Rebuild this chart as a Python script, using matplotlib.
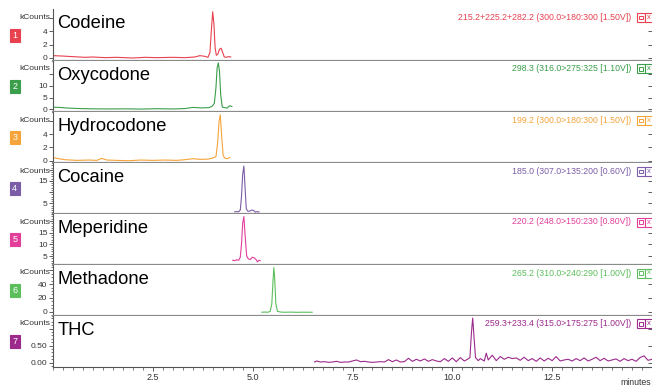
import matplotlib
matplotlib.use('Agg')
import matplotlib.pyplot as plt
from matplotlib.patches import Rectangle
from matplotlib.ticker import MultipleLocator, FixedLocator, NullLocator

plt.rcParams['font.family'] = ['Liberation Sans', 'DejaVu Sans']

W, H = 652, 388

# compounds / channels
names = ['Codeine', 'Oxycodone', 'Hydrocodone', 'Cocaine', 'Meperidine', 'Methadone', 'THC']
channels = ['1', '2', '3', '4', '5', '6', '7']
ions = ['215.2+225.2+282.2 (300.0>180:300 [1.50V])',
        '298.3 (316.0>275:325 [1.10V])',
        '199.2 (300.0>180:300 [1.50V])',
        '185.0 (307.0>135:200 [0.60V])',
        '220.2 (248.0>150:230 [0.80V])',
        '265.2 (310.0>240:290 [1.00V])',
        '259.3+233.4 (315.0>175:275 [1.00V])']
colors = ['#e8414f', '#3a9e4a', '#f4a43a', '#7b5ea7', '#e23f9b', '#5cbf5c', '#9c2a8c']

# traces (minutes, kCounts)
codeine_t = [0, 0.2, 0.5, 0.8, 1.0, 1.3, 1.6, 2.0, 2.3, 2.6, 3.0, 3.3, 3.55, 3.68, 3.8, 3.88,
             3.93, 3.97, 4.0, 4.03, 4.06, 4.09, 4.13, 4.17, 4.21, 4.25, 4.29, 4.33, 4.4, 4.45]
codeine_i = [0.35, 0.3, 0.2, 0.1, 0.15, 0.05, 0.1, 0.0, 0.1, 0.05, 0.1, 0.05, 0.15, 0.35, 0.25, 0.1,
             0.8, 4.5, 6.85, 5.0, 1.5, 0.4, 0.6, 1.3, 1.45, 0.8, 0.15, 0.1, 0.2, 0.15]

oxy_t = [0, 0.15, 0.4, 0.7, 1.0, 1.4, 1.8, 2.2, 2.6, 3.0, 3.3, 3.5, 3.7, 3.9, 3.98, 4.04,
         4.08, 4.11, 4.14, 4.17, 4.2, 4.24, 4.3, 4.36, 4.42, 4.48]
oxy_i = [0.9, 0.8, 0.5, 0.3, 0.2, 0.15, 0.2, 0.1, 0.25, 0.15, 0.3, 0.8, 0.6, 0.7, 1.2, 2.5,
         9.0, 17.5, 19.7, 16.0, 6.0, 0.9, 0.7, 0.5, 1.5, 1.2]

hydro_t = [0, 0.1, 0.3, 0.6, 0.9, 1.1, 1.22, 1.35, 1.6, 1.9, 2.2, 2.5, 2.8, 3.1, 3.3, 3.5,
           3.7, 3.9, 4.0, 4.08, 4.12, 4.16, 4.19, 4.22, 4.26, 4.3, 4.36, 4.43]
hydro_i = [0.5, 0.35, 0.15, 0.05, 0.1, 0.05, 0.35, 0.1, 0.05, 0.0, 0.1, 0.05, 0.1, 0.05, 0.15, 0.3,
           0.2, 0.25, 0.4, 0.6, 2.5, 6.0, 6.9, 4.0, 0.8, 0.4, 0.3, 0.5]

cocaine_t = [4.55, 4.6, 4.65, 4.69, 4.72, 4.75, 4.78, 4.81, 4.84, 4.88, 4.93, 4.98, 5.02, 5.07, 5.12, 5.16]
cocaine_i = [1.2, 1.3, 1.2, 2.0, 8.0, 18.0, 21.7, 12.0, 2.5, 1.4, 1.5, 2.0, 1.8, 1.0, 1.3, 1.1]

mep_t = [4.5, 4.55, 4.6, 4.65, 4.69, 4.72, 4.75, 4.78, 4.81, 4.85, 4.89, 4.94, 4.99, 5.04,
         5.08, 5.12, 5.16, 5.19]
mep_i = [3.2, 3.0, 3.4, 3.2, 4.5, 10.0, 19.0, 21.9, 14.0, 5.0, 3.8, 3.5, 4.5, 4.2,
         3.6, 2.5, 3.2, 3.0]

meth_t = [5.23, 5.3, 5.38, 5.44, 5.48, 5.51, 5.53, 5.55, 5.58, 5.62, 5.7, 5.8, 5.95, 6.1, 6.25, 6.4, 6.49]
meth_i = [-0.8, -0.5, -0.8, 0.5, 12.0, 45.0, 64.0, 50.0, 12.0, 0.5, -0.5, -0.8, -0.6, -0.9, -0.7, -0.8, -0.8]

thc_t = [6.55, 6.6, 6.7, 6.8, 6.9, 7.0, 7.1, 7.2, 7.3, 7.4, 7.5, 7.6, 7.7, 7.8, 7.9, 8.0,
         8.1, 8.2, 8.3, 8.4, 8.5, 8.6, 8.7, 8.8, 8.9, 9.0, 9.1, 9.2, 9.3, 9.4, 9.5, 9.6,
         9.7, 9.8, 9.9, 10.0, 10.1, 10.2, 10.3, 10.38, 10.44, 10.48, 10.51, 10.54, 10.58, 10.65,
         10.7, 10.8, 10.85, 10.9, 11.0, 11.1, 11.2, 11.3, 11.4, 11.5, 11.6, 11.7, 11.8, 11.9,
         12.0, 12.1, 12.2, 12.3, 12.4, 12.5, 12.6, 12.7, 12.8, 12.9, 13.0, 13.1, 13.2, 13.3,
         13.4, 13.5, 13.6, 13.7, 13.8, 13.9, 14.0, 14.1, 14.2, 14.3, 14.4, 14.5, 14.6, 14.7,
         14.8, 14.9, 15.0]
thc_i = [0.02, 0.05, 0.02, 0.03, 0.01, 0.02, 0.04, 0.01, 0.02, 0.02, 0.05, 0.08, 0.03, 0.04, 0.02, 0.01,
         0.02, 0.03, 0.02, 0.09, 0.03, 0.08, 0.02, 0.03, 0.13, 0.04, 0.10, 0.05, 0.11, 0.04, 0.09, 0.05,
         0.03, 0.12, 0.04, 0.14, 0.03, 0.15, 0.05, 0.10, 0.15, 0.9, 1.31, 0.8, 0.15, 0.06,
         0.12, 0.05, 0.28, 0.08, 0.22, 0.06, 0.18, 0.10, 0.16, 0.12, 0.14, 0.07, 0.16, 0.06,
         0.12, 0.04, 0.14, 0.05, 0.13, 0.06, 0.18, 0.05, 0.08, 0.10, 0.05, 0.12, 0.06, 0.14,
         0.05, 0.10, 0.16, 0.06, 0.13, 0.05, 0.08, 0.11, 0.04, 0.12, 0.06, 0.10, 0.04, 0.15,
         0.20, 0.07, 0.10]

traces = [(codeine_t, codeine_i), (oxy_t, oxy_i), (hydro_t, hydro_i), (cocaine_t, cocaine_i),
          (mep_t, mep_i), (meth_t, meth_i), (thc_t, thc_i)]

# y axes
ylims = [(-0.4, 7.2), (-1.27, 20.6), (-0.39, 7.28), (0.2, 22.9), (1.16, 23.0), (-5.8, 67.7), (-0.112, 1.38)]
ytick_pos = [[0, 2, 4, 6], [0, 5, 10, 15], [0, 2, 4, 6], [5, 10, 15, 20], [5, 10, 15, 20],
             [0, 20, 40, 60], [0, 0.5, 1.0]]
ytick_lab = [['0', '2', '4', ''], ['0', '5', '10', ''], ['0', '2', '4', ''], ['5', '', '15', ''],
             ['5', '10', '15', ''], ['0', '20', '40', ''], ['0.00', '0.50', '']]
yminor = [None, None, None, 1, 1, 5, 0.1]

xtick_pos = [2.5, 5.0, 7.5, 10.0, 12.5]
xtick_lab = ['2.5', '5.0', '7.5', '10.0', '12.5']

# panel edges in pixels
edges = [9.4, 60.7, 112.3, 163.3, 214.0, 265.0, 315.7, 366.5]
x0, x1 = 53, 652


def fx(px):
    return px / W


def fy(py):
    return 1 - py / H


fig = plt.figure(figsize=(W / 100, H / 100), dpi=100)

for k in range(7):
    top, bot = edges[k], edges[k + 1]
    ax = fig.add_axes([fx(x0), fy(bot), fx(x1 - x0), (bot - top) / H])
    t, v = traces[k]
    ax.plot(t, v, color=colors[k], lw=0.8)
    ax.set_xlim(0, 15)
    ax.set_ylim(*ylims[k])

    ax.yaxis.set_major_locator(FixedLocator(ytick_pos[k]))
    ax.set_yticklabels(ytick_lab[k])
    if yminor[k]:
        ax.yaxis.set_minor_locator(MultipleLocator(yminor[k]))
    ax.tick_params(axis='y', which='major', length=3, width=0.6, color='#444', labelsize=6,
                   pad=1, labelcolor='#333')
    ax.tick_params(axis='y', which='minor', length=1.6, width=0.5, color='#444')

    for s in ['top', 'right']:
        ax.spines[s].set_visible(False)
    ax.spines['left'].set_color('#555')
    ax.spines['left'].set_linewidth(0.8)

    if k < 6:
        ax.spines['bottom'].set_color('#8a8a8a')
        ax.spines['bottom'].set_linewidth(1.6)
        ax.tick_params(axis='x', which='both', bottom=False, labelbottom=False)
    else:
        ax.spines['bottom'].set_color('#555')
        ax.spines['bottom'].set_linewidth(0.8)
        ax.xaxis.set_major_locator(FixedLocator(xtick_pos))
        ax.set_xticklabels(xtick_lab)
        ax.xaxis.set_minor_locator(MultipleLocator(0.25))
        ax.tick_params(axis='x', which='major', length=3, width=0.6, color='#444',
                       labelsize=6.5, pad=2, labelcolor='#333')
        ax.tick_params(axis='x', which='minor', length=2, width=0.5, color='#444')

    # right side ticks
    ax2 = ax.twinx()
    ax2.set_ylim(ax.get_ylim())
    ax2.yaxis.set_major_locator(FixedLocator(ytick_pos[k]))
    ax2.yaxis.set_minor_locator(NullLocator())
    ax2.tick_params(axis='y', direction='in', length=3, width=0.6, color='#444', labelright=False)
    for s in ax2.spines.values():
        s.set_visible(False)

    # compound name, kCounts, ion label
    fig.text(fx(57.5), fy(top + 19.0), names[k], fontsize=13.2, color='black', va='baseline')
    fig.text(fx(50), fy(top + 8), 'kCounts', fontsize=6, color='#333', ha='right', va='center')
    fig.text(fx(631), fy(top + 8), ions[k], fontsize=6.3, color=colors[k], ha='right', va='center')

    # channel box
    cy = (top + bot) / 2
    fig.add_artist(Rectangle((fx(10), fy(cy + 6.5)), fx(9.5), 13 / H, transform=fig.transFigure,
                             facecolor=colors[k], edgecolor=colors[k], lw=0.8))
    fig.text(fx(14.8), fy(cy), channels[k], fontsize=6.5, color='white', ha='center', va='center')

    # little icons on the right
    iy = top + 8
    fig.add_artist(Rectangle((fx(636.5), fy(iy + 4.5)), fx(8), 9 / H, transform=fig.transFigure,
                             facecolor='white', edgecolor=colors[k], lw=0.8))
    fig.add_artist(Rectangle((fx(639), fy(iy + 1.8)), fx(3.5), 3.6 / H, transform=fig.transFigure,
                             facecolor='none', edgecolor=colors[k], lw=0.7))
    fig.add_artist(Rectangle((fx(644.5), fy(iy + 4.5)), fx(8), 9 / H, transform=fig.transFigure,
                             facecolor='white', edgecolor=colors[k], lw=0.8))
    fig.text(fx(648.5), fy(iy), 'x', fontsize=5.5, color=colors[k], ha='center', va='center')

fig.text(fx(651), fy(382.5), 'minutes', fontsize=6.3, color='#333', ha='right', va='center')

fig.savefig('out.png', dpi=100)
